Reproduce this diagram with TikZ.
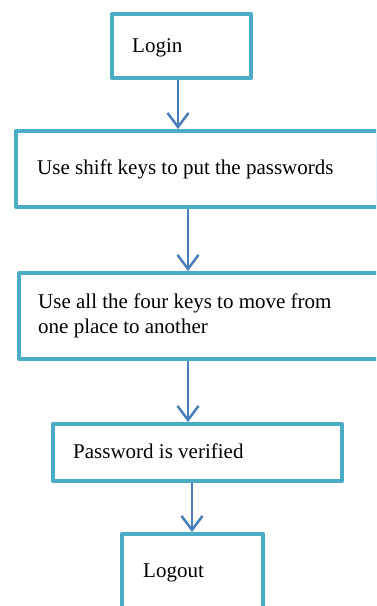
\documentclass[tikz,border=0pt]{standalone}
\usepackage{fontspec}
\setmainfont{Liberation Serif}
\usetikzlibrary{arrows.meta}
\definecolor{boxline}{HTML}{4BACC6}
\definecolor{arrline}{HTML}{4A7EBB}
\tikzset{
  flowbox/.style={draw=boxline, line width=4pt, line join=round, fill=white, rectangle, inner sep=0pt},
  flowtext/.style={anchor=base west, inner sep=0pt, font=\fontsize{21}{25}\selectfont, align=left},
  flowarrow/.style={draw=arrline, line width=2.5pt, -{Straight Barb[length=14pt,width=21pt,line width=2.5pt]}}
}
\begin{document}
\begin{tikzpicture}[x=1pt,y=-1pt]
\useasboundingbox (0,0) rectangle (376,606);
\clip (0,0) rectangle (376,606);
\fill[white] (0,0) rectangle (376,606);
% boxes (stroke-centre coordinates)
\node[flowbox, minimum width=139pt, minimum height=64pt, anchor=north west] (login) at (110,12) {};
\node[flowbox, minimum width=362pt, minimum height=76pt, anchor=north west] (shift) at (14,129) {};
\node[flowbox, minimum width=368pt, minimum height=86pt, anchor=north west] (move) at (17,271) {};
\node[flowbox, minimum width=289pt, minimum height=57pt, anchor=north west] (verify) at (51,422) {};
\node[flowbox, minimum width=141pt, minimum height=86pt, anchor=north west] (logout) at (120,532) {};
% texts
\node[flowtext] (logint) at (132,52) {Login};
\node[flowtext] (shiftt) at (37,174) {Use shift keys to put the passwords};
\node[flowtext] (movet) at (38,333) {Use all the four keys to move from\\one place to another};
\node[flowtext] (verifyt) at (73,458) {Password is verified};
\node[flowtext] (logoutt) at (143,577) {Logout};
% connectors
\draw[flowarrow] ([xshift=-3.5pt]login.south) -- ([xshift=-3.5pt]login.south |- shift.north);
\draw[flowarrow] ([xshift=-9pt]shift.south) -- ([xshift=-9pt]shift.south |- move.north);
\draw[flowarrow] ([xshift=-15pt]move.south) -- ([xshift=-15pt]move.south |- verify.north);
\draw[flowarrow] ([xshift=-5.5pt]verify.south) -- ([xshift=-5.5pt]verify.south |- logout.north);
\end{tikzpicture}
\end{document}
